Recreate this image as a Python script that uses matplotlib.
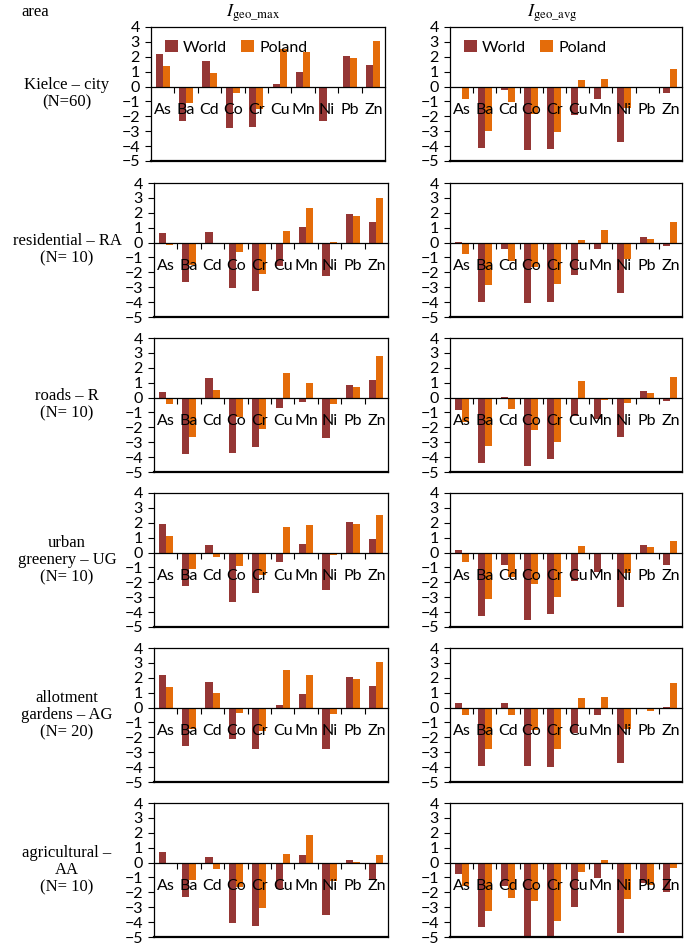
import numpy as np
import matplotlib.pyplot as plt

plt.rcParams['font.family'] = ['Lato', 'DejaVu Sans']
plt.rcParams['mathtext.fontset'] = 'stix'

elements = ['As', 'Ba', 'Cd', 'Co', 'Cr', 'Cu', 'Mn', 'Ni', 'Pb', 'Zn']
areas = ['Kielce \u2013 city\n(N=60)', 'residential \u2013 RA\n(N= 10)', 'roads \u2013 R\n(N= 10)',
         'urban\ngreenery \u2013 UG\n(N= 10)', 'allotment\ngardens \u2013 AG\n(N= 20)',
         'agricultural \u2013\nAA\n(N= 10)']

# Igeo_max (World background, Poland background)
city_max_world = [2.18, -2.31, 1.73, -2.81, -2.70, 0.16, 1.01, -2.31, 2.02, 1.46]
city_max_poland = [1.37, -1.12, 0.90, -0.40, -1.53, 2.52, 2.29, -0.01, 1.89, 3.06]
ra_max_world = [0.61, -2.67, 0.68, -3.07, -3.28, -1.60, 1.02, -2.26, 1.92, 1.38]
ra_max_poland = [-0.18, -1.51, -0.11, -0.66, -2.10, 0.75, 2.31, 0.04, 1.79, 2.98]
r_max_world = [0.36, -3.82, 1.31, -3.75, -3.30, -0.70, -0.29, -2.73, 0.84, 1.18]
r_max_poland = [-0.43, -2.67, 0.50, -1.33, -2.12, 1.65, 0.97, -0.43, 0.70, 2.80]
ug_max_world = [1.94, -2.24, 0.54, -3.34, -2.69, -0.61, 0.56, -2.49, 2.03, 0.88]
ug_max_poland = [1.13, -1.08, -0.27, -0.90, -1.49, 1.74, 1.88, -0.18, 1.90, 2.49]
ag_max_world = [2.17, -2.60, 1.74, -2.08, -2.75, 0.18, 0.93, -2.75, 2.03, 1.47]
ag_max_poland = [1.38, -1.44, 0.95, -0.36, -1.56, 2.55, 2.21, -0.45, 1.90, 3.07]
aa_max_world = [0.70, -2.34, 0.39, -4.09, -4.25, -1.76, 0.52, -3.52, 0.16, -1.10]
aa_max_poland = [-0.07, -1.18, -0.41, -1.67, -3.07, 0.59, 1.84, -1.22, 0.03, 0.50]

# Igeo_avg
city_avg_world = [-0.05, -4.11, -0.22, -4.29, -4.22, -1.91, -0.81, -3.73, 0.00, -0.40]
city_avg_poland = [-0.85, -2.99, -1.03, -1.87, -3.03, 0.45, 0.49, -1.43, -0.13, 1.21]
ra_avg_world = [0.05, -3.98, -0.45, -4.07, -3.98, -2.17, -0.43, -3.37, 0.38, -0.20]
ra_avg_poland = [-0.75, -2.85, -1.27, -1.65, -2.80, 0.18, 0.84, -1.10, 0.27, 1.38]
r_avg_world = [-0.81, -4.41, 0.05, -4.63, -4.16, -1.22, -1.42, -2.62, 0.43, -0.20]
r_avg_poland = [-1.61, -3.25, -0.77, -2.21, -2.98, 1.13, -0.14, -0.34, 0.29, 1.38]
ug_avg_world = [0.14, -4.27, -0.81, -4.54, -4.16, -1.90, -1.28, -3.64, 0.50, -0.81]
ug_avg_poland = [-0.61, -3.12, -1.63, -2.10, -2.98, 0.43, 0.00, -1.34, 0.38, 0.75]
ag_avg_world = [0.29, -3.90, 0.32, -3.95, -4.00, -1.70, -0.52, -3.72, -0.11, 0.03]
ag_avg_poland = [-0.47, -2.75, -0.47, -1.53, -2.80, 0.65, 0.74, -1.42, -0.25, 1.63]
aa_avg_world = [-0.76, -4.35, -1.56, -5.00, -5.13, -3.00, -1.01, -4.71, -1.35, -1.97]
aa_avg_poland = [-1.56, -3.23, -2.38, -2.58, -3.95, -0.63, 0.20, -2.42, -1.48, -0.36]

max_world = [city_max_world, ra_max_world, r_max_world, ug_max_world, ag_max_world, aa_max_world]
max_poland = [city_max_poland, ra_max_poland, r_max_poland, ug_max_poland, ag_max_poland, aa_max_poland]
avg_world = [city_avg_world, ra_avg_world, r_avg_world, ug_avg_world, ag_avg_world, aa_avg_world]
avg_poland = [city_avg_poland, ra_avg_poland, r_avg_poland, ug_avg_poland, ag_avg_poland, aa_avg_poland]

c_world = '#953735'
c_poland = '#E46C0A'

W, H = 685, 946
fig = plt.figure(figsize=(W / 100, H / 100), dpi=100)

row_tops = [27, 183, 338, 493, 648, 803]
ax_h = 134
x = np.arange(len(elements))
bw = 0.3


def draw_panel(ax, world, poland, legend=False):
    ax.bar(x - bw / 2, world, bw, color=c_world, label='World', zorder=1)
    ax.bar(x + bw / 2, poland, bw, color=c_poland, label='Poland', zorder=1)
    ax.set_xlim(-0.5, 9.5)
    ax.set_ylim(-5, 4)
    ax.set_yticks(range(-5, 5))
    ax.tick_params(axis='y', direction='out', length=4, width=0.8, pad=4, labelsize=11.5)
    ax.spines['bottom'].set_position(('data', 0))
    for s in ax.spines.values():
        s.set_linewidth(0.9)
    # frame line at the bottom of the plot area
    ax.axhline(-5, color='black', lw=1.6, clip_on=False)
    ax.set_xticks(np.arange(0.5, 9.5, 1))
    ax.set_xticklabels([])
    ax.tick_params(axis='x', which='major', direction='out', length=4, width=0.8)
    ax.set_xticks(x, minor=True)
    ax.set_xticklabels(elements, minor=True)
    ax.tick_params(axis='x', which='minor', length=0, pad=12, labelsize=11.5)
    if legend:
        ax.legend(loc='upper left', bbox_to_anchor=(0.0, 1.01), ncol=2, frameon=False,
                  fontsize=11.5, handlelength=0.8, handleheight=0.8, handletextpad=0.3,
                  columnspacing=0.9)


for i, top in enumerate(row_tops):
    l_left = 151 if i == 0 else 154
    ax1 = fig.add_axes([l_left / W, 1 - (top + ax_h) / H, 234 / W, ax_h / H])
    draw_panel(ax1, max_world[i], max_poland[i], legend=(i == 0))
    ax2 = fig.add_axes([450 / W, 1 - (top + ax_h) / H, 232 / W, ax_h / H])
    draw_panel(ax2, avg_world[i], avg_poland[i], legend=(i == 0))
    fig.text(67 / W, 1 - (top + 67) / H, areas[i], ha='center', va='center',
             family='Liberation Serif', fontsize=12, linespacing=1.1)

fig.text(35 / W, 1 - 12 / H, 'area', ha='center', va='center', family='Liberation Serif', fontsize=12)
fig.text(253 / W, 1 - 13 / H, r'$I_{\rm geo\_max}$', ha='center', va='center', fontsize=13)
fig.text(552 / W, 1 - 13 / H, r'$I_{\rm geo\_avg}$', ha='center', va='center', fontsize=13)

fig.savefig('out.png', dpi=100)
